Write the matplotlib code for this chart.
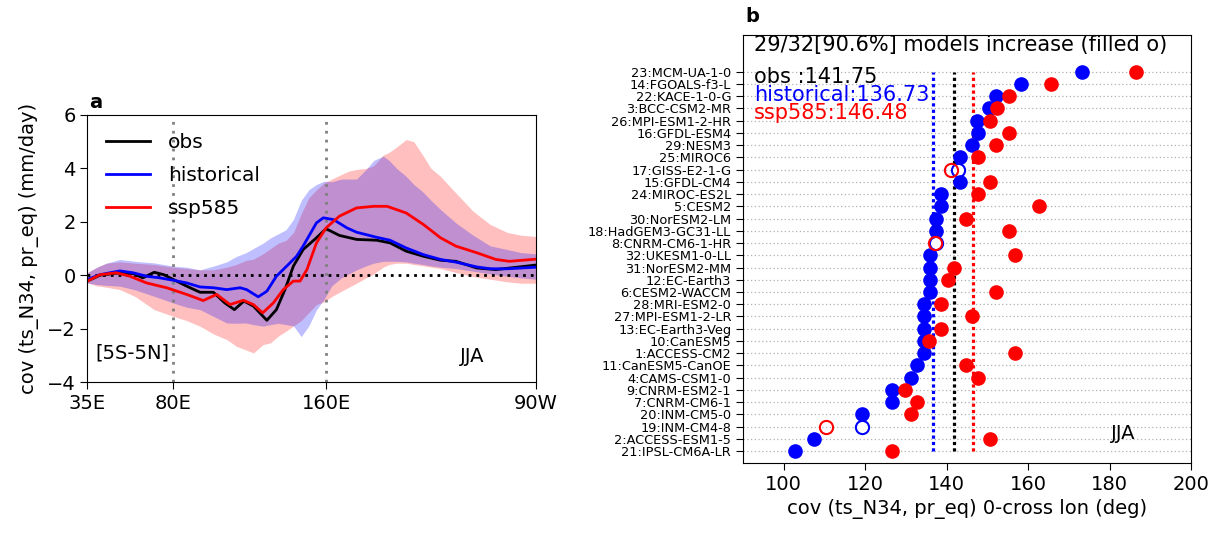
import matplotlib
matplotlib.use("Agg")
import matplotlib.pyplot as plt
import numpy as np

plt.rcParams['font.family'] = ['DejaVu Sans']

# ---------------- panel a data ----------------
obs_lon = [35, 41.6, 52, 59, 64, 70, 75, 80, 87, 94, 101, 107, 112, 117, 122, 129, 134, 138.5,
           142.9, 148, 155, 160, 167, 176, 186.5, 193.5, 202, 211, 220, 228, 239, 249, 260, 270]
obs_val = [-0.22, 0.0, 0.09, 0.06, -0.1, 0.11, 0.02, -0.16, -0.41, -0.64, -0.64, -1.04, -1.29, -0.97,
           -1.16, -1.69, -1.29, -0.54, 0.34, 0.96, 1.4, 1.74, 1.49, 1.34, 1.31, 1.21, 0.9, 0.71, 0.56,
           0.52, 0.27, 0.21, 0.3, 0.38]

hist_lon = [35, 41.6, 52, 59, 66, 73, 80, 87, 94, 101, 108, 115, 118.4, 124.5, 129, 134, 139.4,
            144.6, 148, 155, 158.6, 164, 171, 176, 186.5, 193.5, 202, 211, 220, 228, 239, 246, 255, 270]
hist_val = [-0.16, 0.02, 0.16, 0.09, -0.04, -0.1, -0.19, -0.29, -0.44, -0.47, -0.54, -0.47, -0.54,
            -0.81, -0.6, -0.04, 0.34, 0.71, 1.09, 1.96, 2.15, 2.08, 1.77, 1.61, 1.42, 1.31, 1.02, 0.77,
            0.59, 0.49, 0.31, 0.24, 0.24, 0.3]

ssp_lon = [35, 41.6, 50.3, 57.3, 66, 76.5, 87, 95.7, 102.7, 109.7, 116.7, 122, 126.8, 132.4, 137.6,
           142.9, 146.4, 150, 155, 160, 167, 176, 185, 192, 202, 211, 220, 228, 239, 249, 256, 270]
ssp_val = [-0.22, 0.02, 0.09, -0.04, -0.29, -0.47, -0.72, -0.95, -0.72, -1.1, -0.94, -1.1, -1.41,
           -1.04, -0.54, -0.22, -0.22, 0.21, 1.21, 1.77, 2.21, 2.52, 2.58, 2.58, 2.33, 1.9, 1.4, 1.09,
           0.84, 0.59, 0.52, 0.6]

band_lon = [35, 40, 45, 52, 60, 70, 80, 87, 94, 101, 108, 113, 118, 122, 127, 131, 135, 139, 143,
            147, 151, 155, 159, 163, 168, 172, 176, 181, 185, 190, 193, 197, 202, 206, 211, 215, 220,
            228, 237, 246, 255, 262, 270]
hist_hi = [0.09, 0.3, 0.45, 0.59, 0.52, 0.46, 0.34, 0.3, 0.2, 0.34, 0.5, 0.7, 0.84, 1.0, 1.2, 1.4,
           1.55, 1.7, 2.1, 2.8, 3.2, 3.4, 3.52, 3.5, 3.6, 3.6, 3.6, 3.96, 4.3, 4.46, 4.3, 4.0, 3.7, 3.4,
           3.1, 2.8, 2.46, 1.96, 1.5, 1.1, 0.96, 0.85, 0.8]
hist_lo = [-0.29, -0.35, -0.38, -0.41, -0.55, -0.79, -1.04, -1.2, -1.29, -1.54, -1.79, -1.8, -1.79,
           -1.85, -1.91, -1.85, -1.8, -1.85, -1.9, -2.3, -1.9, -1.3, -0.9, -0.4, -0.1, 0.05, 0.2, 0.35,
           0.45, 0.52, 0.52, 0.52, 0.5, 0.45, 0.4, 0.35, 0.3, 0.25, 0.15, 0.05, -0.04, -0.1, -0.15]
ssp_hi = [0.1, 0.3, 0.45, 0.5, 0.45, 0.4, 0.3, 0.25, 0.2, 0.2, 0.3, 0.4, 0.55, 0.6, 0.8, 1.0, 1.2,
          1.3, 1.6, 2.3, 2.9, 3.2, 3.46, 3.6, 3.77, 3.9, 3.96, 4.0, 4.1, 4.5, 4.6, 4.8, 5.08, 5.0, 4.46,
          4.0, 3.7, 3.08, 2.4, 1.9, 1.6, 1.5, 1.45]
ssp_lo = [-0.29, -0.4, -0.45, -0.54, -0.8, -1.29, -1.54, -1.7, -1.91, -2.2, -2.41, -2.66, -2.8, -2.91,
          -2.6, -2.53, -2.28, -2.1, -1.9, -1.7, -1.4, -1.1, -1.0, -0.8, -0.6, -0.45, -0.3, -0.1, 0.05,
          0.3, 0.4, 0.45, 0.45, 0.4, 0.35, 0.3, 0.25, 0.1, -0.05, -0.15, -0.25, -0.3, -0.3]

a_xticks = [35, 80, 160, 270]
a_xticklabels = ['35E', '80E', '160E', '90W']

# ---------------- panel b data ----------------
models = ['23:MCM-UA-1-0', '14:FGOALS-f3-L', '22:KACE-1-0-G', '3:BCC-CSM2-MR', '26:MPI-ESM1-2-HR',
          '16:GFDL-ESM4', '29:NESM3', '25:MIROC6', '17:GISS-E2-1-G', '15:GFDL-CM4', '24:MIROC-ES2L',
          '5:CESM2', '30:NorESM2-LM', '18:HadGEM3-GC31-LL', '8:CNRM-CM6-1-HR', '32:UKESM1-0-LL',
          '31:NorESM2-MM', '12:EC-Earth3', '6:CESM2-WACCM', '28:MRI-ESM2-0', '27:MPI-ESM1-2-LR',
          '13:EC-Earth3-Veg', '10:CanESM5', '1:ACCESS-CM2', '11:CanESM5-CanOE', '4:CAMS-CSM1-0',
          '9:CNRM-ESM2-1', '7:CNRM-CM6-1', '20:INM-CM5-0', '19:INM-CM4-8', '2:ACCESS-ESM1-5',
          '21:IPSL-CM6A-LR']
hist_cross = [173.3, 158.3, 152.2, 150.4, 147.5, 147.7, 146.3, 143.2, 142.8, 143.2, 138.7, 138.7,
              137.3, 137.3, 137.5, 135.8, 135.8, 135.8, 135.8, 134.4, 134.4, 134.4, 134.4, 134.4,
              132.7, 131.2, 126.7, 126.7, 119.3, 119.3, 107.4, 102.7]
ssp_cross = [186.5, 165.7, 155.3, 152.3, 150.7, 155.3, 152.2, 147.7, 141.0, 150.7, 147.7, 162.8,
             144.8, 155.3, 137.2, 156.7, 141.7, 140.3, 152.2, 138.7, 146.3, 138.7, 135.7, 156.7,
             144.8, 147.7, 129.7, 132.7, 131.2, 110.3, 150.7, 126.7]
obs_mean = 141.75
hist_mean = 136.73
ssp_mean = 146.48
b_xticks = [100, 120, 140, 160, 180, 200]

# ---------------- figure ----------------
fig = plt.figure(figsize=(12.24, 5.35), dpi=100)
W, H = 1224, 535

def box(l, r, t, b):
    return [l / W, 1 - b / H, (r - l) / W, (b - t) / H]

# panel a
ax = fig.add_axes(box(87.4, 536, 115, 382))
ax.fill_between(band_lon, ssp_lo, ssp_hi, color='red', alpha=0.25, lw=0)
ax.fill_between(band_lon, hist_lo, hist_hi, color='blue', alpha=0.25, lw=0)
ax.axvline(80, color='grey', ls=(0, (1, 2.2)), lw=2)
ax.axvline(160, color='grey', ls=(0, (1, 2.2)), lw=2)
ax.axhline(0, color='black', ls=(0, (1, 1.8)), lw=2)
ax.plot(obs_lon, obs_val, color='black', lw=2, label='obs')
ax.plot(hist_lon, hist_val, color='blue', lw=2, label='historical')
ax.plot(ssp_lon, ssp_val, color='red', lw=2, label='ssp585')
ax.set_xlim(35, 270)
ax.set_ylim(-4, 6)
ax.set_xticks(a_xticks)
ax.set_xticklabels(a_xticklabels)
ax.set_yticks([-4, -2, 0, 2, 4, 6])
ax.tick_params(labelsize=14, length=5)
ax.set_ylabel('cov (ts_N34, pr_eq) (mm/day)', fontsize=14, labelpad=6)
leg = ax.legend(loc='upper left', bbox_to_anchor=(0.0, 1.0), frameon=False, fontsize=14.5,
                handlelength=2.2, handletextpad=0.9, labelspacing=0.7)
ax.text(0.017, 0.11, '[5S-5N]', transform=ax.transAxes, fontsize=14, va='center', ha='left')
ax.text(0.857, 0.095, 'JJA', transform=ax.transAxes, fontsize=14, va='center', ha='center')
fig.text(96 / W, 1 - 103 / H, 'a', fontsize=14, fontweight='bold', ha='center', va='center')

# panel b
bx = fig.add_axes(box(743, 1191, 35, 462.7))
n = len(models)
ypos = np.arange(n)[::-1]
for y in ypos:
    bx.axhline(y, color='#b0b0b0', ls=(0, (1, 2)), lw=0.9, zorder=1)
bx.plot([hist_mean, hist_mean], [ypos.min(), ypos.max()], color='blue', ls=(0, (1, 1)), lw=2.3, zorder=2)
bx.plot([obs_mean, obs_mean], [ypos.min(), ypos.max()], color='black', ls=(0, (1, 1)), lw=2.3, zorder=2)
bx.plot([ssp_mean, ssp_mean], [ypos.min(), ypos.max()], color='red', ls=(0, (1, 1)), lw=2.3, zorder=2)
hist_arr = np.array(hist_cross)
ssp_arr = np.array(ssp_cross)
inc = ssp_arr > hist_arr
ms = 9.5
for i in range(n):
    if inc[i]:
        bx.plot(hist_arr[i], ypos[i], 'o', color='blue', ms=ms, mec='blue', zorder=3)
        bx.plot(ssp_arr[i], ypos[i], 'o', color='red', ms=ms, mec='red', zorder=4)
    else:
        bx.plot(hist_arr[i], ypos[i], 'o', mfc='white', mec='blue', ms=ms, mew=1.5, zorder=3)
        bx.plot(ssp_arr[i], ypos[i], 'o', mfc='none', mec='red', ms=ms, mew=1.5, zorder=4)
bx.set_xlim(90, 200)
bx.set_ylim(-0.95, n + 2)
bx.set_yticks(ypos)
bx.set_yticklabels(models, fontsize=9.3)
bx.set_xticks(b_xticks)
bx.tick_params(axis='x', labelsize=14, length=5)
bx.tick_params(axis='y', length=5)
bx.set_xlabel('cov (ts_N34, pr_eq) 0-cross lon (deg)', fontsize=14)
n_inc = int(inc.sum())
bx.text(0.025, 0.977, '%d/%d[%.1f%%] models increase (filled o)' % (n_inc, n, 100.0 * n_inc / n),
        transform=bx.transAxes, fontsize=15, va='center', ha='left')
bx.text(0.025, 0.902, 'obs :%.2f' % obs_mean, transform=bx.transAxes, fontsize=15, va='center', color='black')
bx.text(0.025, 0.860, 'historical:%.2f' % hist_mean, transform=bx.transAxes, fontsize=15, va='center', color='blue')
bx.text(0.025, 0.817, 'ssp585:%.2f' % ssp_mean, transform=bx.transAxes, fontsize=15, va='center', color='red')
bx.text(0.848, 0.069, 'JJA', transform=bx.transAxes, fontsize=14, va='center', ha='center')
fig.text(752 / W, 1 - 17 / H, 'b', fontsize=14, fontweight='bold', ha='center', va='center')

fig.savefig('out.png', dpi=100)
